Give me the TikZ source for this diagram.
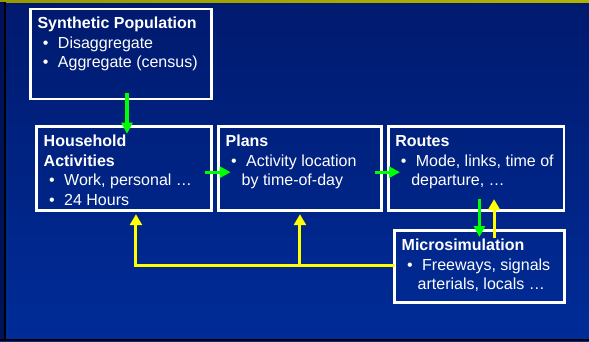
\documentclass[tikz,border=0pt]{standalone}
\usepackage{fontspec}
\setmainfont{Liberation Sans}
\usetikzlibrary{arrows.meta,calc}

\newcommand{\panel}[3]{\parbox[t][#2][t]{#1}{\rule{0pt}{14pt}#3}}
\newcommand{\itm}{\hspace*{5.5pt}\makebox[15pt][l]{\textbullet}}
\newcommand{\cnt}{\hspace*{16pt}}

\definecolor{bgtop}{RGB}{0,26,110}
\definecolor{bgbot}{RGB}{0,44,152}
\definecolor{bgside}{RGB}{0,18,90}
\definecolor{arrgreen}{RGB}{0,255,0}
\definecolor{arryellow}{RGB}{255,255,0}

\begin{document}
\begin{tikzpicture}[x=1pt, y=-1pt,
    stage/.style={draw=white, line width=2.6pt, text=white, anchor=north west,
      inner xsep=7pt, inner ysep=6pt, outer sep=0pt,
      font=\fontsize{16}{19.5}\selectfont},
    fwd/.style={draw=arrgreen, line width=3.2pt, -{Triangle[length=11pt,width=11pt]}},
    back/.style={draw=arryellow, line width=3pt, -{Triangle[length=11pt,width=12pt]}}]
  \useasboundingbox (0,0) rectangle (589,341);
  % slide background
  \shade[top color=bgtop, bottom color=bgbot] (0,0) rectangle (589,341);
  \shade[left color=yellow!60!black, middle color=yellow, right color=yellow!70!black] (0,0) rectangle (589,2.3);
  \fill[bgside] (0,2.3) rectangle (3.5,341);
  \fill[black] (3.5,2.3) rectangle (6,341);
  \fill[black] (0,339) rectangle (589,341);

  % stages
  \node[stage] (syn) at (30.5,8.8) {\panel{167pt}{78pt}{\textbf{Synthetic Population}\\
    \itm Disaggregate\\
    \itm Aggregate (census)}};
  \node[stage] (hh) at (36.7,126.7) {\panel{160.5pt}{72pt}{\textbf{Household}\\
    \textbf{Activities}\\
    \itm Work, personal …\\
    \itm 24 Hours}};
  \node[stage] (plans) at (218.7,126.7) {\panel{148.5pt}{72pt}{\textbf{Plans}\\
    \itm Activity location\\
    \cnt by time-of-day}};
  \node[stage] (routes) at (388.3,126.7) {\panel{161.5pt}{72pt}{\textbf{Routes}\\
    \itm Mode, links, time of\\
    \cnt departure, …}};
  \node[stage] (micro) at (394.7,230.7) {\panel{155.5pt}{59.5pt}{\textbf{Microsimulation}\\
    \itm Freeways, signals\\
    \cnt arterials, locals …}};

  % forward flow
  \draw[fwd] ($(syn.south)+(6,-6)$) -- ($(syn.south |- hh.north)+(6,7)$);
  \draw[fwd] ($(hh.east)+(-6,3.5)$) -- ($(hh.east -| plans.west)+(12,3.5)$);
  \draw[fwd] ($(plans.east)+(-6,3.5)$) -- ($(plans.east -| routes.west)+(11.7,3.5)$);
  \draw[fwd] ($(micro.north |- routes.south)+(0,-11.5)$) -- ($(micro.north)+(0,6.3)$);

  % feedback
  \draw[back] ($(micro.north)+(14.6,7.3)$) -- ($(micro.north |- routes.south)+(14.6,-11.5)$);
  \coordinate (fb) at ($(micro.west)+(0,-1.3)$);
  \draw[back] (fb) -| ($(hh.south)+(12,3.5)$);
  \draw[back] (fb -| plans.south) -- ($(plans.south)+(0,3.5)$);
\end{tikzpicture}
\end{document}
